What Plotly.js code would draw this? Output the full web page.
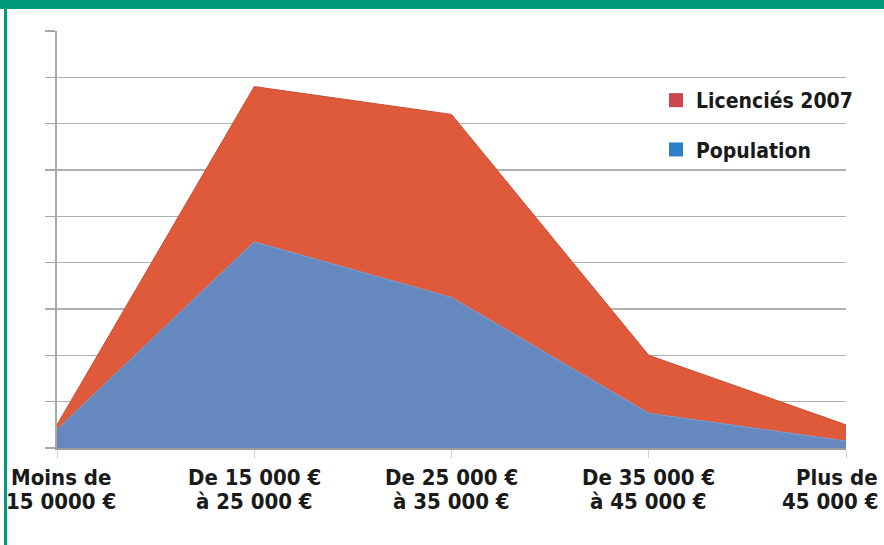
<!DOCTYPE html>
<html>
<head>
<meta charset="utf-8">
<script src="https://cdn.plot.ly/plotly-3.0.1.min.js"></script>
<style>
  html, body { margin: 0; padding: 0; background: #ffffff; overflow: hidden; width: 884px; height: 545px; }
  #chart { width: 884px; height: 545px; display: block; }
</style>
</head>
<body>
<div id="chart"></div>
<script>
// ---- data ----
const categories = [0, 1, 2, 3, 4];
const categoryLabels = [
  "Moins de<br>15 0000 €",
  "De 15 000 €<br>à 25 000 €",
  "De 25 000 €<br>à 35 000 €",
  "De 35 000 €<br>à 45 000 €",
  "Plus de<br>45 000 €"
];
const licencies2007 = [0.5, 7.8, 7.2, 2.0, 0.5];
const population = [0.4, 4.45, 3.25, 0.75, 0.15];
const seriesNames = ["Licenciés 2007", "Population"];

// ---- layout constants ----
const W = 884, H = 545;
const M = { l: 57, r: 38, t: 31, b: 97 };
const PW = W - M.l - M.r, PH = H - M.t - M.b;
const px2x = p => (p - M.l) / PW;
const py2y = p => (H - M.b - p) / PH;

const green = "#009B7C";
const red = "#DE5A3B";
const blue = "#6588BE";
const condensed = "Liberation Sans Narrow, DejaVu Sans Condensed, Arial Narrow, sans-serif";
const labelFont = { family: condensed, size: 22, color: "#1a1a1a", weight: "bold" };

const traces = [
  { x: categories, y: licencies2007, type: "scatter", mode: "lines", fill: "tozeroy",
    fillcolor: red, line: { color: "#C94E33", width: 1 }, name: seriesNames[0], showlegend: false, hoverinfo: "skip" },
  { x: categories, y: population, type: "scatter", mode: "lines", fill: "tozeroy",
    fillcolor: blue, line: { color: "#7A9ED3", width: 1 }, name: seriesNames[1], showlegend: false, hoverinfo: "skip" },
  { x: [null], y: [null], type: "scatter", mode: "markers", name: seriesNames[0],
    marker: { symbol: "square", size: 14, color: "#CC4650" }, legendgroup: "a" },
  { x: [null], y: [null], type: "scatter", mode: "markers", name: seriesNames[1],
    marker: { symbol: "square", size: 14, color: "#2F7EC8" }, legendgroup: "b" }
];

const annotations = [];
categories.forEach((c, i) => {
  const last = i === categories.length - 1;
  categoryLabels[i].split("<br>").forEach((line, k) => {
    annotations.push({
      x: c, y: 0, xref: "x", yref: "paper", yanchor: "middle",
      xanchor: last ? "right" : "center",
      xshift: i === 0 ? 4 : (last ? 34 : 0),
      yshift: -29 - 24 * k,
      text: line, showarrow: false, font: labelFont
    });
  });
});

const layout = {
  width: W, height: H,
  margin: M,
  paper_bgcolor: "#ffffff", plot_bgcolor: "#ffffff",
  showlegend: true,
  legend: {
    x: px2x(656), y: py2y(80), xanchor: "left", yanchor: "top",
    traceorder: "grouped", tracegroupgap: 19,
    font: { family: condensed, size: 21, color: "#1a1a1a", weight: "bold" },
    bgcolor: "rgba(0,0,0,0)"
  },
  xaxis: {
    range: [0, 4], tickvals: categories, showticklabels: false,
    showgrid: false, zeroline: false,
    showline: true, linecolor: "#9a9a9a", linewidth: 2,
    ticks: "outside", ticklen: 8, tickcolor: "#d0d0d0", tickwidth: 1
  },
  yaxis: {
    range: [0, 9], dtick: 1, tick0: 0, showticklabels: false,
    showgrid: true, gridcolor: "#b0b0b0", gridwidth: 1.5, zeroline: false,
    showline: true, linecolor: "#a8a8a8", linewidth: 2,
    ticks: "outside", ticklen: 10, tickcolor: "#a8a8a8", tickwidth: 1.5
  },
  annotations: annotations,
  shapes: [
    { type: "rect", xref: "paper", yref: "paper", x0: px2x(-2), x1: px2x(W + 2), y0: py2y(9), y1: py2y(-2),
      fillcolor: green, line: { width: 0 }, layer: "above" },
    { type: "rect", xref: "paper", yref: "paper", x0: px2x(4), x1: px2x(7), y0: py2y(H + 2), y1: py2y(8),
      fillcolor: green, line: { width: 0 }, layer: "above" }
  ]
};

Plotly.newPlot("chart", traces, layout, { displayModeBar: false, staticPlot: true });
</script>
</body>
</html>
